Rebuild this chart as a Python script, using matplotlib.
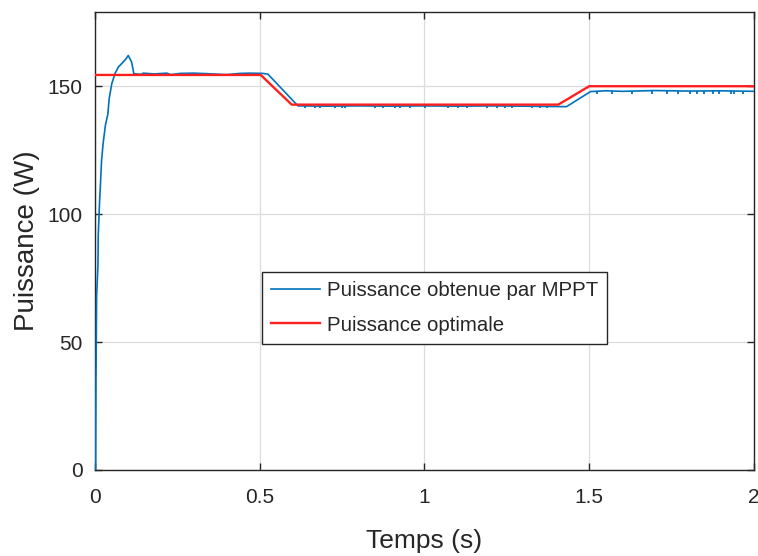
import numpy as np
import matplotlib
matplotlib.use("Agg")
import matplotlib.pyplot as plt

plt.rcParams['font.family'] = ['Liberation Sans', 'DejaVu Sans']

# optimal power (red)
opt_t = [0, 0.503, 0.597, 1.406, 1.500, 2.0]
opt_p = [154.4, 154.4, 142.8, 142.8, 150.0, 150.0]

# power obtained by MPPT (blue), main trace
mppt_t = [0, 0.002, 0.003, 0.005, 0.009, 0.010, 0.014, 0.016, 0.020, 0.025,
          0.032, 0.039, 0.043, 0.051, 0.061, 0.071, 0.086, 0.093, 0.101, 0.111,
          0.118, 0.140, 0.146, 0.180, 0.218, 0.230, 0.258, 0.300, 0.340, 0.400,
          0.440, 0.470, 0.510, 0.525, 0.616, 0.700, 0.800, 0.900, 1.000, 1.100,
          1.200, 1.300, 1.431, 1.504, 1.550, 1.600, 1.700, 1.800, 1.900, 2.000]
mppt_p = [0, 0, 35, 68, 80, 92, 105, 110, 121, 128,
          135, 139, 145, 151, 155, 157.5, 159.5, 160.5, 162, 159.5,
          154.9, 154.6, 155.1, 154.8, 155.1, 154.5, 155.0, 155.1, 154.9, 154.5,
          155.0, 155.1, 155.0, 154.7, 142.3, 142.2, 142.3, 142.2, 142.3, 142.2,
          142.3, 142.2, 142.0, 147.9, 148.2, 148.0, 148.3, 148.1, 148.2, 148.0]

# small downward glitches on each plateau of the MPPT trace
glitch1_t = [0.364, 0.486]
glitch1_level = 154.8
glitch2_t = [0.637, 0.668, 0.683, 0.728, 0.749, 0.759, 0.850, 0.875, 0.910,
             0.926, 0.956, 1.002, 1.072, 1.103, 1.128, 1.189, 1.219, 1.244,
             1.265, 1.325, 1.351, 1.372]
glitch2_level = 142.3
glitch3_t = [1.523, 1.568, 1.629, 1.690, 1.735, 1.768, 1.806, 1.826, 1.848,
             1.877, 1.895, 1.930, 1.940, 1.968]
glitch3_level = 148.1
glitch_depth = 1.0

blue = '#0072BD'
red = '#FF1F1F'
dark = '#262626'

fig = plt.figure(figsize=(7.58, 5.56), dpi=100)
ax = fig.add_axes([0.1253, 0.1547, 0.8694, 0.8237])

ax.plot(mppt_t, mppt_p, color=blue, lw=1.2, label='Puissance obtenue par MPPT', zorder=3)
for gt, lvl in [(glitch1_t, glitch1_level), (glitch2_t, glitch2_level), (glitch3_t, glitch3_level)]:
    ax.vlines(gt, lvl - glitch_depth, lvl, color=blue, lw=1.3, zorder=3)
ax.plot(opt_t, opt_p, color=red, lw=1.7, label='Puissance optimale', zorder=4)

ax.set_xlim(0, 2)
ax.set_ylim(0, 179)
ax.set_xticks([0, 0.5, 1, 1.5, 2])
ax.set_xticklabels(['0', '0.5', '1', '1.5', '2'])
ax.set_yticks([0, 50, 100, 150])

ax.grid(True, color='#dcdcdc', lw=0.9)
ax.set_axisbelow(True)
for s in ax.spines.values():
    s.set_color(dark)
    s.set_linewidth(1.0)
ax.tick_params(direction='in', length=5, width=1.0, colors=dark, labelsize=15,
               top=True, right=True)
ax.tick_params(axis='x', pad=13)
ax.tick_params(axis='y', pad=9)

ax.set_xlabel('Temps (s)', fontsize=19, color=dark, labelpad=16)
ax.set_ylabel('Puissance (W)', fontsize=20, color=dark, labelpad=5)

leg = ax.legend(loc='upper left', bbox_to_anchor=(0.253, 0.432), fontsize=14.7,
                frameon=True, fancybox=False, edgecolor=dark, framealpha=1,
                handlelength=2.4, handletextpad=0.35, borderpad=0.45,
                labelspacing=0.75, borderaxespad=0)
leg.get_frame().set_linewidth(1.0)
for t in leg.get_texts():
    t.set_color(dark)

fig.savefig('out.png', dpi=100)
